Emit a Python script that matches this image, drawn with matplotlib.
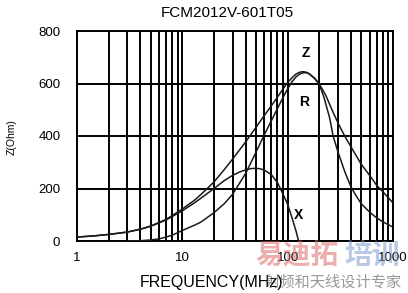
import matplotlib
matplotlib.use("Agg")
import matplotlib.pyplot as plt
from matplotlib.ticker import FixedLocator, NullFormatter

plt.rcParams['font.family'] = ['Liberation Sans', 'Noto Sans CJK SC', 'DejaVu Sans']

title = "FCM2012V-601T05"
x_label = "FREQUENCY(MHz)"
y_label = "Z(Ohm)"

x_ticks = [1, 10, 100, 1000]
x_tick_labels = ["1", "10", "100", "1000"]
y_ticks = [0, 200, 400, 600, 800]
y_tick_labels = ["0", "200", "400", "600", "800"]

z_freq = [1, 1.5, 2, 3, 4, 5, 7, 10, 13, 15, 20, 25, 30, 40, 50, 60, 70, 80, 90, 100,
          110, 120, 130, 140, 150, 160, 180, 200, 230, 260, 300, 350, 400, 500, 600,
          700, 800, 1000]
z_vals = [15, 20, 25, 34, 45, 57, 82, 122, 155, 177, 225, 272, 312, 378, 433, 478, 515, 548, 578, 604,
          622, 636, 643, 645, 643, 637, 620, 598, 555, 505, 450, 398, 358, 292, 250,
          212, 188, 145]

r_freq = [3, 4, 5, 6, 7, 8, 10, 13, 15, 20, 25, 30, 40, 50, 60, 70, 80, 90, 100,
          110, 120, 130, 140, 150, 160, 180, 200, 220, 250, 270, 300, 350, 400, 450,
          500, 600, 700, 800, 1000]
r_vals = [0, 1, 4, 8, 15, 22, 40, 60, 72, 108, 142, 178, 258, 338, 405, 458, 505, 545, 580,
          607, 625, 636, 641, 641, 637, 620, 596, 550, 470, 400, 340, 262, 205, 170,
          142, 110, 88, 73, 53]

x_freq = [1, 1.5, 2, 3, 4, 5, 7, 10, 13, 15, 20, 25, 30, 35, 40, 45, 50, 55, 60, 70,
          80, 90, 100, 110, 120, 127]
x_vals = [15, 20, 25, 34, 45, 56, 80, 115, 145, 163, 200, 230, 250, 263, 271, 276, 277, 275, 270, 253,
          222, 180, 140, 88, 38, 0]

W, H = 408, 293
fig = plt.figure(figsize=(W / 100, H / 100), dpi=100)
ax = fig.add_axes([77 / W, 1 - 241 / H, (393 - 77) / W, (241 - 31) / H])

ax.set_xscale('log')
ax.set_xlim(1, 1000)
ax.set_ylim(0, 800)

minor = [m * 10 ** d for d in range(0, 3) for m in range(2, 10)]
ax.xaxis.set_major_locator(FixedLocator(x_ticks))
ax.xaxis.set_minor_locator(FixedLocator(minor))
ax.xaxis.set_minor_formatter(NullFormatter())
ax.set_xticklabels(x_tick_labels)
ax.set_yticks(y_ticks)
ax.set_yticklabels(y_tick_labels)

ax.grid(True, which='major', axis='both', color='black', linewidth=1.4)
ax.grid(True, which='minor', axis='x', color='black', linewidth=1.4)
ax.tick_params(which='both', length=0, labelsize=9.5)
ax.tick_params(axis='y', pad=12)
ax.tick_params(axis='x', pad=8)
for s in ax.spines.values():
    s.set_linewidth(1.4)
    s.set_color('black')

for f, v in [(z_freq, z_vals), (r_freq, r_vals), (x_freq, x_vals)]:
    ax.plot(f, v, color='#1a1a1a', linewidth=1.1, zorder=5)

ax.text(148, 715, "Z", fontsize=10, fontweight='bold', ha='center', va='center')
ax.text(143, 530, "R", fontsize=10, fontweight='bold', ha='center', va='center')
ax.text(128, 100, "X", fontsize=10, fontweight='bold', ha='center', va='center')

fig.text(227 / W, 1 - 13 / H, title, fontsize=11, ha='center', va='center')
fig.text(12 / W, 1 - 137 / H, y_label, fontsize=7.5, rotation=90, ha='center', va='center')
fig.text(212 / W, 1 - 282 / H, x_label, fontsize=11.5, ha='center', va='center')

# watermark
fig.text(255 / W, 1 - 257 / H, "易迪拓", fontsize=20, color='#e06a6a', alpha=0.55,
         ha='left', va='center', fontweight='bold')
fig.text(344 / W, 1 - 257 / H, "培训", fontsize=20, color='#7f9ad0', alpha=0.55,
         ha='left', va='center', fontweight='bold')
fig.text(402 / W, 1 - 282 / H, "射频和天线设计专家", fontsize=11, color='#555555', alpha=0.6,
         ha='right', va='center', family=['Noto Sans CJK SC', 'DejaVu Sans'])

fig.savefig("out.png", dpi=100)
